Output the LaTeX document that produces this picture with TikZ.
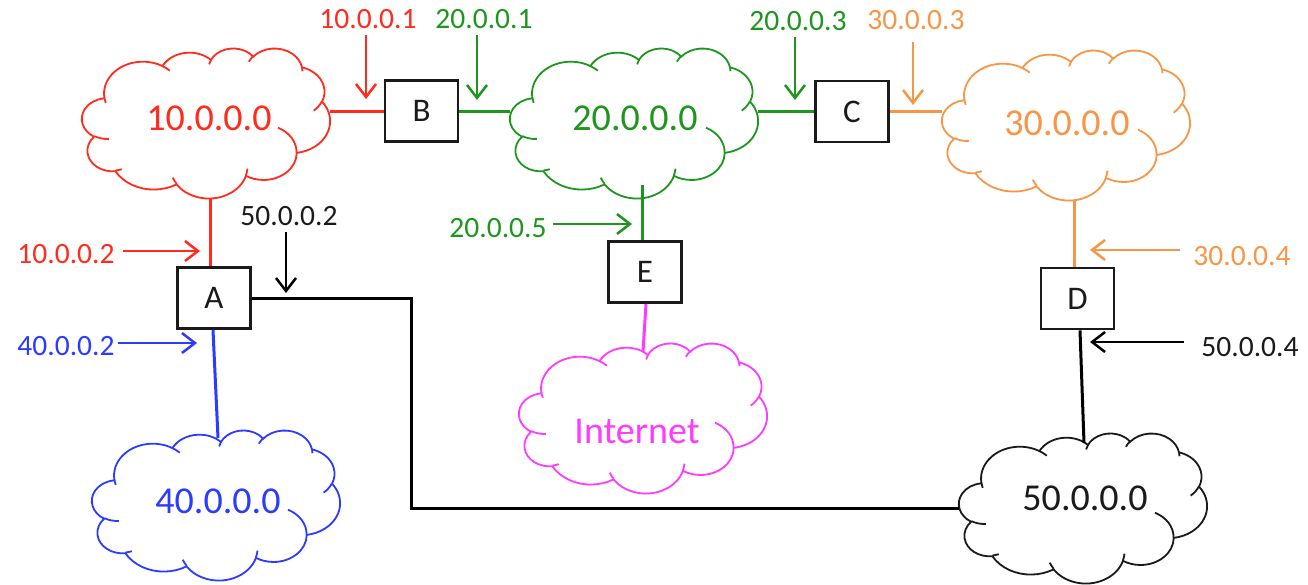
\documentclass[tikz,border=0pt]{standalone}
\usepackage{fontspec}
\setmainfont{Carlito}
\usetikzlibrary{arrows.meta}
\definecolor{nred}{HTML}{FF2B1C}
\definecolor{ngreen}{HTML}{1E961E}
\definecolor{norange}{HTML}{F79646}
\definecolor{nblue}{HTML}{2B3BFF}
\definecolor{nmag}{HTML}{FF3BFF}
\definecolor{nblack}{HTML}{1A1A1A}
% arc builder: name, wR/100, hR/100, start angle (visual, deg), sweep (deg)
\newcommand\mkarc[5]{%
  \pgfmathsetmacro\tmpS{atan2((#2)*sin(#4),(#3)*cos(#4))}%
  \pgfmathsetmacro\tmpE{\tmpS+Mod(atan2((#2)*sin(#4+#5),(#3)*cos(#4+#5))-\tmpS,360)}%
  \pgfmathsetmacro\tmpA{0-(\tmpS)}%
  \pgfmathsetmacro\tmpB{0-(\tmpE)}%
  \pgfmathsetmacro\tmpRx{(#2)*0.574074}%
  \pgfmathsetmacro\tmpRy{(#3)*0.347222}%
  \expandafter\xdef\csname #1\endcsname{arc[start angle=\tmpA,end angle=\tmpB,x radius=\tmpRx pt,y radius=\tmpRy pt]}%
}
\mkarc{cldA}{67.53}{91.90}{-190.487}{123.781}
\mkarc{cldB}{53.33}{72.67}{-144.102}{89.945}
\mkarc{cldC}{43.65}{59.45}{-145.808}{99.723}
\mkarc{cldD}{48.57}{65.95}{-130.986}{117.242}
\mkarc{cldE}{53.33}{72.73}{-78.709}{109.027}
\mkarc{cldF}{67.75}{92.20}{-46.267}{130.269}
\mkarc{cldG}{57.85}{78.67}{0.625}{114.033}
\mkarc{cldH}{67.52}{92.15}{22.452}{115.173}
\mkarc{cldI}{77.20}{105.43}{66.243}{75.711}
\mkarc{cldJ}{43.60}{59.18}{-274.942}{146.736}
\mkarc{cldK}{43.45}{59.45}{-246.829}{152.519}
\mkarc{cldiA}{43.45}{59.45}{86.742}{26.430}
\mkarc{cldiB}{43.60}{59.18}{73.610}{11.447}
\mkarc{cldiC}{67.52}{92.15}{137.624}{14.081}
\mkarc{cldiD}{67.52}{92.15}{6.453}{15.998}
\mkarc{cldiE}{57.85}{78.67}{-70.292}{70.917}
\mkarc{cldiF}{53.33}{72.73}{30.318}{27.752}
\mkarc{cldiG}{48.57}{65.95}{-13.744}{14.859}
\mkarc{cldiH}{48.57}{65.95}{-149.181}{18.195}
\mkarc{cldiI}{43.65}{59.45}{-163.494}{17.686}
\mkarc{cldiJ}{67.53}{91.90}{-66.707}{12.319}
\mkarc{cldiK}{67.53}{91.90}{157.654}{11.858}
\tikzset{
  box/.style={draw=nblack, line width=2.8pt, fill=white, minimum width=73pt, minimum height=61pt, inner sep=0pt, font=\fontsize{33}{34}\selectfont, text=nblack},
  cloudbox/.style={minimum width=248pt, minimum height=150pt, inner sep=0pt},
  cloudtext/.style={anchor=base, inner sep=0pt, font=\fontsize{38}{40}\selectfont},
  ip/.style={anchor=base, inner sep=0pt, font=\fontsize{29.5}{30}\selectfont},
  link/.style={line width=3pt},
  arr/.style={line width=2.5pt, -{Straight Barb[length=13pt,width=20pt]}},
  cloudline/.style={line width=1.8pt},
}
% cloud: name, cx, cy, colour
\newcommand\netcloud[4]{%
  \node[cloudbox] (#1) at (#2,#3) {};
  \begin{scope}[shift={(#2-124,#3-75)}]
    \draw[cloudline,#4,fill=white] (22.389,49.896) \cldA \cldB \cldC \cldD \cldE \cldF \cldG \cldH \cldI \cldJ \cldK -- cycle;
    \draw[cloudline,#4] (26.941,90.892) \cldiA (39.772,121.177) \cldiB (94.596,135.729) \cldiC (165.488,120.663) \cldiD (195.925,79.701) \cldiE (239.952,53.312) \cldiF (220.005,18.840) \cldiG (166.929,13.722) \cldiH (127.106,16.389) \cldiI (80.370,18.028) \cldiJ (23.692,54.823) \cldiK;
  \end{scope}
}
\begin{document}
\begin{tikzpicture}[x=1pt,y=-1pt]
\useasboundingbox (0,0) rectangle (1308,584);
% clouds
\netcloud{c10}{206}{123}{nred}
\netcloud{c20}{634}{123}{ngreen}
\netcloud{c30}{1066}{125}{norange}
\netcloud{c40}{216}{505}{nblue}
\netcloud{cInt}{643}{418}{nmag}
\netcloud{c50}{1083}{508}{nblack}
\node[cloudtext, nred] (t10) at (209,130) {10.0.0.0};
\node[cloudtext, ngreen] (t20) at (635,130) {20.0.0.0};
\node[cloudtext, norange] (t30) at (1067,135) {30.0.0.0};
\node[cloudtext, nblue] (t40) at (218,513) {40.0.0.0};
\node[cloudtext, nblack] (t50) at (1085,510) {50.0.0.0};
\node[cloudtext, nmag] (tInt) at (637,443) {Internet};
% routers
\node[box] (A) at (214,298) {A};
\node[box] (B) at (421.5,111) {B};
\node[box] (C) at (852,111.5) {C};
\node[box] (D) at (1077.5,298.5) {D};
\node[box] (E) at (645,272) {E};
\coordinate (bend) at (411,298);
% links
\draw[link, nred] (c10.east |- B.west) -- (B.west);
\draw[link, ngreen] (B.east) -- (B.east -| c20.west);
\draw[link, ngreen] (c20.east |- C.west) -- (C.west);
\draw[link, norange] (C.east) -- (C.east -| c30.west);
\draw[link, norange] ([xshift=-3.5pt]D.north) -- ([xshift=-3.5pt]D.north |- c30.south);
\draw[link, black] ([xshift=2.5pt]D.south) -- ([shift={(1pt,-10pt)}]c50.north);
\draw[link, nred] ([xshift=-4pt]A.north) -- ([xshift=-4pt]A.north |- c10.south);
\draw[link, nblue] ([xshift=-1pt]A.south) -- ([shift={(2pt,-8pt)}]c40.north);
\draw[link, black] (A.east) -- (bend) |- (c50.west);
\draw[link, ngreen] ([xshift=-3pt]E.north) -- ([shift={(-3pt,13pt)}]E.north |- c20.south);
\draw[link, nmag] ([xshift=1pt]E.south) -- ([yshift=-9pt]cInt.north);
% address labels
\node[ip, nred] (ip101) at (368,28) {10.0.0.1};
\node[ip, ngreen] (ip201) at (484,28) {20.0.0.1};
\node[ip, ngreen] (ip203) at (798,30) {20.0.0.3};
\node[ip, norange] (ip303) at (916,29) {30.0.0.3};
\node[ip, nblack] (ip502) at (289,225) {50.0.0.2};
\node[ip, nred] (ip102) at (66,263) {10.0.0.2};
\node[ip, nblue] (ip402) at (66,355) {40.0.0.2};
\node[ip, ngreen] (ip205) at (498,237) {20.0.0.5};
\node[ip, norange] (ip304) at (1242,265) {30.0.0.4};
\node[ip, nblack] (ip504) at (1250,356) {50.0.0.4};
\coordinate (a101) at (366,99);
\coordinate (a201) at (477,100);
\coordinate (a203) at (795,100);
\coordinate (a303) at (913,105);
\coordinate (a502) at (286,293);
\coordinate (a102) at (200,251);
\coordinate (a402) at (197,343);
\coordinate (a205) at (632,224);
\coordinate (a304) at (1090,250);
\coordinate (a504) at (1090,342);
\draw[arr, nred] ([yshift=-7pt]ip101.south -| a101) -- (a101);
\draw[arr, ngreen] ([yshift=-7pt]ip201.south -| a201) -- (a201);
\draw[arr, ngreen] ([yshift=-7pt]ip203.south -| a203) -- (a203);
\draw[arr, norange] ([yshift=-13pt]ip303.south -| a303) -- (a303);
\draw[arr, black] ([yshift=-7pt]ip502.south -| a502) -- (a502);
\draw[arr, nred] ([xshift=8pt]ip102.east |- a102) -- (a102);
\draw[arr, nblue] ([xshift=3pt]ip402.east |- a402) -- (a402);
\draw[arr, ngreen] ([xshift=6pt]ip205.east |- a205) -- (a205);
\draw[arr, norange] ([xshift=-13pt]ip304.west |- a304) -- (a304);
\draw[arr, black] ([xshift=-17pt]ip504.west |- a504) -- (a504);
\end{tikzpicture}
\end{document}
